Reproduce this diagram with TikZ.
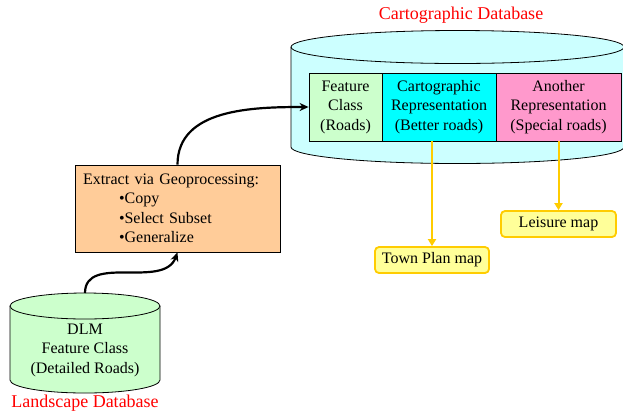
\documentclass[tikz,border=0pt]{standalone}
\usepackage{fontspec}
\setmainfont{Liberation Serif}
\usetikzlibrary{arrows.meta,calc}
\definecolor{cylcyan}{RGB}{204,255,255}
\definecolor{lightgreen}{RGB}{204,255,204}
\definecolor{repcyan}{RGB}{0,255,255}
\definecolor{reppink}{RGB}{255,153,204}
\definecolor{orangebox}{RGB}{255,204,153}
\definecolor{ybord}{RGB}{255,204,0}
\definecolor{yfill}{RGB}{255,255,153}
\definecolor{titlered}{RGB}{255,0,0}
\begin{document}
\begin{tikzpicture}[x=1pt,y=1pt,
  txt/.style={font=\fontsize{16}{19.5}\selectfont},
  inbox/.style={draw=black,line width=0.8pt,inner sep=0pt,align=center,minimum height=68pt,txt},
  mapbox/.style={draw=ybord,fill=yfill,line width=1.8pt,rounded corners=4pt,minimum height=26pt,minimum width=114pt,inner sep=0pt,txt},
  blackarrow/.style={line width=2.2pt,-{Stealth[length=9pt,width=8pt]}},
  yarrow/.style={draw=ybord,line width=2pt,-{Triangle[length=7pt,width=8pt]}},
  cyl/.style={draw=black,line width=0.8pt},
  redtitle/.style={text=titlered,font=\fontsize{18}{21}\selectfont}]
\useasboundingbox (0,0) rectangle (623,-416);
% big cylinder
\fill[cylcyan] (291,-47) -- (291,-147) arc (180:360:166.5 and 16.5) -- (624,-47) arc (0:180:166.5 and 16.5) -- cycle;
\draw[cyl] (291,-47) -- (291,-147) arc (180:360:166.5 and 16.5) -- (624,-47);
\draw[cyl] (457.5,-47) ellipse (166.5 and 16.5);
% small cylinder
\fill[lightgreen] (10,-306) -- (10,-380) arc (180:360:75 and 13) -- (160,-306) arc (0:180:75 and 13) -- cycle;
\draw[cyl] (10,-306) -- (10,-380) arc (180:360:75 and 13) -- (160,-306);
\draw[cyl] (85,-306) ellipse (75 and 13);
\coordinate (dlmtop) at (85,-293);
\node[txt,align=center] (dlm) at (85,-350) {DLM\\Feature Class\\(Detailed Roads)};
% titles
\node[redtitle] (carttitle) at (461,-15) {Cartographic Database};
\node[redtitle] (landtitle) at (85,-403) {Landscape Database};
% inner boxes
\node[inbox,fill=lightgreen,minimum width=73pt] (fc) at (345.5,-107) {Feature\\Class\\(Roads)};
\node[inbox,fill=repcyan,minimum width=114pt] (cartrep) at (439,-107) {Cartographic\\Representation\\(Better roads)};
\node[inbox,fill=reppink,minimum width=125pt] (another) at (558.5,-107) {Another\\Representation\\(Special roads)};
% extract box
\node[draw=black,line width=0.8pt,fill=orangebox,minimum width=205pt,minimum height=87pt,inner xsep=8pt,inner ysep=0pt,text width=189pt,align=left,txt] (extract) at (177.5,-208.5)
 {Extract via Geoprocessing:\\\hspace*{36pt}•Copy\\\hspace*{36pt}•Select Subset\\\hspace*{36pt}•Generalize};
% map boxes
\node[mapbox] (town) at (432,-260) {Town Plan map};
\node[mapbox,minimum width=115pt] (leisure) at (558.5,-224) {Leisure map};
% connectors
\draw[blackarrow] (dlmtop) to[out=90,in=-110] (extract.south);
\draw[blackarrow] (extract.north) to[out=90,in=180] (fc.west);
\draw[yarrow] (cartrep.south -| town.north) -- (town.north);
\draw[yarrow] (another.south -| leisure.north) -- (leisure.north);
\end{tikzpicture}
\end{document}
